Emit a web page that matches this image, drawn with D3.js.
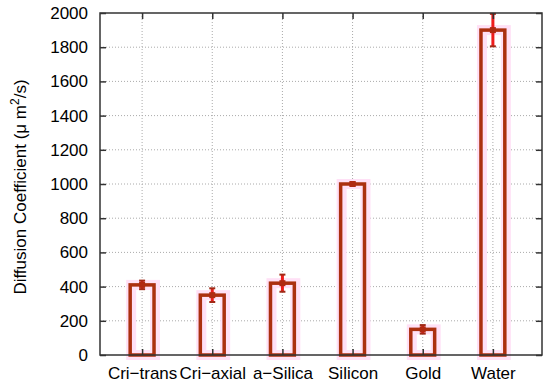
<!DOCTYPE html>
<html>
<head>
  <meta charset="UTF-8" />
  <style>
    body { margin: 0; background: #fff; }
    svg text { font-family: "Liberation Sans", Arial, Helvetica, sans-serif; }
  </style>
  <script src="https://d3js.org/d3.v7.min.js"></script>
</head>
<body>
  <script>
    let categories = ["Cri\u2212trans", "Cri\u2212axial", "a\u2212Silica", "Silicon", "Gold", "Water"];
    let values = [410, 350, 420, 1000, 150, 1900];
    let errors = [25, 40, 50, 10, 25, 95];
    let yTicks = [0, 200, 400, 600, 800, 1000, 1200, 1400, 1600, 1800, 2000];

    let margin = { top: 13, right: 8, bottom: 33, left: 100 };
    let width = 550 - margin.left - margin.right;
    let height = 388 - margin.top - margin.bottom;

    let svg = d3.select("body").append("svg")
      .attr("width", 550)
      .attr("height", 388)
      .append("g")
      .attr("transform", `translate(${margin.left}, ${margin.top})`);

    let x = d3.scaleLinear().domain([-0.6, 5.7]).range([0, width]);
    let y = d3.scaleLinear().domain([0, 2000]).range([height, 0]);
    let barW = 0.34;

    /* grid */
    svg.append("g").selectAll("line.hg").data(yTicks.slice(1, -1)).enter()
      .append("line")
      .attr("x1", 0).attr("x2", width)
      .attr("y1", d => y(d)).attr("y2", d => y(d))
      .attr("stroke", "#aaa").attr("stroke-dasharray", "1,2");
    svg.append("g").selectAll("line.vg").data(categories).enter()
      .append("line")
      .attr("x1", (d, i) => x(i)).attr("x2", (d, i) => x(i))
      .attr("y1", 0).attr("y2", height)
      .attr("stroke", "#aaa").attr("stroke-dasharray", "1,2");

    /* bars */
    let bars = svg.append("g").selectAll("g.bar").data(values).enter().append("g");
    bars.append("rect")
      .attr("x", (d, i) => x(i - barW / 2) + 1)
      .attr("y", d => y(d))
      .attr("width", x(barW) - x(0))
      .attr("height", d => height - y(d))
      .attr("fill", "none")
      .attr("stroke", "#ffe0f6")
      .attr("stroke-width", 10);
    bars.append("rect")
      .attr("x", (d, i) => x(i - barW / 2))
      .attr("y", d => y(d))
      .attr("width", x(barW) - x(0))
      .attr("height", d => height - y(d))
      .attr("fill", "none")
      .attr("stroke", "#ab300f")
      .attr("stroke-width", 3.5);

    /* error bars */
    let eb = svg.append("g").selectAll("g.err").data(values).enter().append("g");
    eb.append("line")
      .attr("x1", (d, i) => x(i)).attr("x2", (d, i) => x(i))
      .attr("y1", (d, i) => y(d + errors[i])).attr("y2", (d, i) => y(d - errors[i]))
      .attr("stroke", "#ee1c1c").attr("stroke-width", 3);
    ["plus", "minus"].forEach(k => {
      eb.append("line")
        .attr("x1", (d, i) => x(i) - 3).attr("x2", (d, i) => x(i) + 3)
        .attr("y1", (d, i) => y(k === "plus" ? d + errors[i] : d - errors[i]))
        .attr("y2", (d, i) => y(k === "plus" ? d + errors[i] : d - errors[i]))
        .attr("stroke", "#a02a16").attr("stroke-width", 2);
    });
    eb.append("rect")
      .attr("x", (d, i) => x(i) - 3).attr("y", d => y(d) - 3)
      .attr("width", 6).attr("height", 6)
      .attr("fill", "#b02a12");

    /* axes frame */
    svg.append("rect").attr("width", width).attr("height", height)
      .attr("fill", "none").attr("stroke", "#333").attr("stroke-width", 1.5);

    let yAxis = svg.append("g")
      .call(d3.axisLeft(y).tickValues(yTicks).tickSize(-6).tickPadding(12).tickFormat(d3.format("d")));
    let yAxisR = svg.append("g").attr("transform", `translate(${width},0)`)
      .call(d3.axisRight(y).tickValues(yTicks).tickSize(-6).tickFormat(""));
    let xAxis = svg.append("g").attr("transform", `translate(0,${height})`)
      .call(d3.axisBottom(x).tickValues(d3.range(categories.length)).tickSize(-6).tickPadding(12)
        .tickFormat(i => categories[i]));
    let xAxisT = svg.append("g")
      .call(d3.axisTop(x).tickValues(d3.range(categories.length)).tickSize(-6).tickFormat(""));

    [yAxis, yAxisR, xAxis, xAxisT].forEach(a => {
      a.select(".domain").remove();
      a.attr("font-size", null).attr("font-family", null);
      a.selectAll("line").attr("stroke", "#333").attr("stroke-width", 1.5);
      a.selectAll("text").attr("fill", "#000").style("font-size", "17px");
    });

    /* y label */
    svg.append("text")
      .attr("transform", `translate(${20 - margin.left}, ${height / 2 + 3}) rotate(-90)`)
      .attr("text-anchor", "middle")
      .attr("dy", "0.35em")
      .style("font-size", "17px")
      .html('Diffusion Coefficient (\u03bc m<tspan dy="-7" style="font-size:12px">2</tspan><tspan dy="7">/s)</tspan>');
  </script>
</body>
</html>
